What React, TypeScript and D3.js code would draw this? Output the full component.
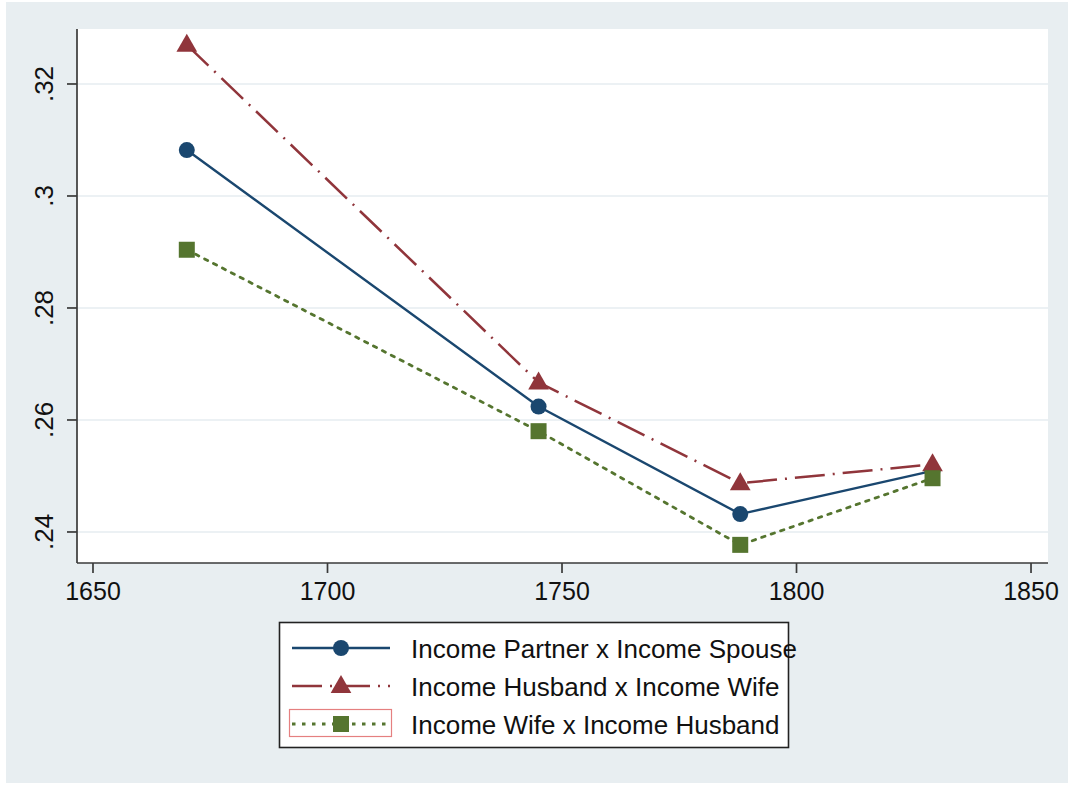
import React from "react";
import * as d3 from "d3";

// Years at which the correlations were measured
const years = [1670, 1745, 1788, 1829];

// Correlation series
const partnerSpouse = [0.3082, 0.2624, 0.2432, 0.2509];
const husbandWife = [0.327, 0.2667, 0.2487, 0.2521];
const wifeHusband = [0.2904, 0.258, 0.2377, 0.2496];

// Axis ticks
const xTicks = [1650, 1700, 1750, 1800, 1850];
const yTicks = [0.24, 0.26, 0.28, 0.3, 0.32];
const yTickLabels = [".24", ".26", ".28", ".3", ".32"];

const seriesNames = [
  "Income Partner x Income Spouse",
  "Income Husband x Income Wife",
  "Income Wife x Income Husband",
];

const W = 1068;
const H = 786;
const plot = { left: 77, right: 1048, top: 29, bottom: 563 };

const BLUE = "#1a476f";
const RED = "#90353b";
const GREEN = "#55752f";
const AXIS = "#3a3a3a";
const FONT = "'Liberation Sans', Arial, Helvetica, sans-serif";

type Marker = "circle" | "triangle" | "square";

function MarkerShape({ kind, cx, cy, color }: { kind: Marker; cx: number; cy: number; color: string }) {
  if (kind === "circle") return <circle cx={cx} cy={cy} r={8} fill={color} />;
  if (kind === "square") return <rect x={cx - 8} y={cy - 8} width={16} height={16} fill={color} />;
  const s = d3.symbol().type(d3.symbolTriangle).size(185)();
  return <path d={s || ""} transform={`translate(${cx},${cy + 1})`} fill={color} />;
}

export default function App() {
  const x = d3.scaleLinear().domain([1646.59, 1853.62]).range([plot.left, plot.right]);
  const y = d3.scaleLinear().domain([0.23446, 0.32982]).range([plot.bottom, plot.top]);

  const series = [
    { name: seriesNames[0], values: partnerSpouse, color: BLUE, dash: "none", width: 2.4, marker: "circle" as Marker },
    { name: seriesNames[1], values: husbandWife, color: RED, dash: "30 8 2 8", width: 2.5, marker: "triangle" as Marker },
    { name: seriesNames[2], values: wifeHusband, color: GREEN, dash: "3.5 6.5", width: 2.8, marker: "square" as Marker },
  ];

  const line = d3
    .line<[number, number]>()
    .x((d) => x(d[0]))
    .y((d) => y(d[1]));

  const legendRows = [648, 686, 724];

  return (
    <div style={{ position: "absolute", left: 0, top: 0 }}>
      <svg width={W} height={H} style={{ display: "block" }} fontFamily={FONT}>
        <rect x={0} y={0} width={W} height={H} fill="#ffffff" />
        <rect x={6} y={2} width={W - 6} height={781} fill="#e8eef1" />
        <rect
          x={plot.left}
          y={plot.top}
          width={plot.right - plot.left}
          height={plot.bottom - plot.top}
          fill="#ffffff"
        />

        {/* horizontal grid lines */}
        {yTicks.map((t) => (
          <line
            key={`g${t}`}
            x1={plot.left}
            x2={plot.right}
            y1={y(t)}
            y2={y(t)}
            stroke="#e6edf0"
            strokeWidth={1.6}
          />
        ))}

        {/* y axis */}
        <line x1={plot.left} x2={plot.left} y1={plot.top} y2={plot.bottom} stroke={AXIS} strokeWidth={1.7} />
        {yTicks.map((t, i) => (
          <g key={`y${t}`}>
            <line x1={plot.left - 10} x2={plot.left} y1={y(t)} y2={y(t)} stroke={AXIS} strokeWidth={1.7} />
            <text
              transform={`translate(53,${y(t)}) rotate(-90)`}
              textAnchor="middle"
              fontSize={26}
              fill="#111"
            >
              {yTickLabels[i]}
            </text>
          </g>
        ))}

        {/* x axis */}
        <line x1={plot.left} x2={plot.right} y1={plot.bottom} y2={plot.bottom} stroke={AXIS} strokeWidth={1.7} />
        {xTicks.map((t) => (
          <g key={`x${t}`}>
            <line x1={x(t)} x2={x(t)} y1={plot.bottom} y2={plot.bottom + 10} stroke={AXIS} strokeWidth={1.7} />
            <text x={x(t)} y={600} textAnchor="middle" fontSize={25} fill="#111">
              {t}
            </text>
          </g>
        ))}

        {/* series lines */}
        {series.map((s) => (
          <path
            key={s.name}
            d={line(years.map((yr, i) => [yr, s.values[i]] as [number, number])) || ""}
            fill="none"
            stroke={s.color}
            strokeWidth={s.width}
            strokeDasharray={s.dash}
            strokeLinecap={s.marker === "square" ? "round" : "butt"}
          />
        ))}

        {/* markers */}
        {series.map((s) =>
          years.map((yr, i) => (
            <MarkerShape key={`${s.name}${yr}`} kind={s.marker} cx={x(yr)} cy={y(s.values[i])} color={s.color} />
          ))
        )}

        {/* legend */}
        <rect x={279.5} y={622.5} width={509} height={125} fill="#ffffff" stroke="#222" strokeWidth={1.6} />
        <rect x={289.5} y={709.5} width={102} height={27} fill="none" stroke="#e58080" strokeWidth={1.2} />
        {series.map((s, i) => (
          <g key={`l${s.name}`}>
            <line
              x1={292}
              x2={390}
              y1={legendRows[i]}
              y2={legendRows[i]}
              stroke={s.color}
              strokeWidth={s.width}
              strokeDasharray={s.dash === "none" ? undefined : s.marker === "triangle" ? "30 8 2 8" : "3.5 6.5"}
            />
            <MarkerShape kind={s.marker} cx={341} cy={legendRows[i]} color={s.color} />
            <text x={411} y={legendRows[i] + 10} fontSize={26} fill="#111">
              {s.name}
            </text>
          </g>
        ))}
      </svg>
    </div>
  );
}
